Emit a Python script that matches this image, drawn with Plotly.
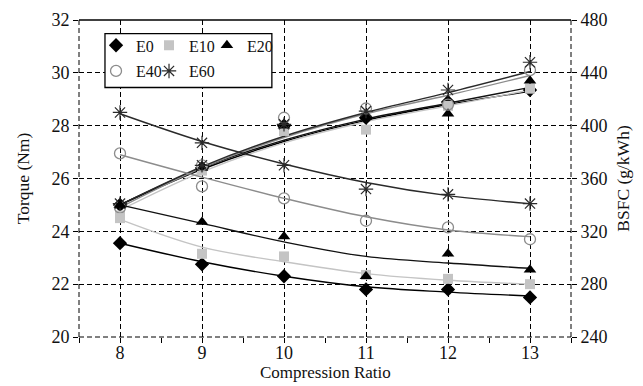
import plotly.graph_objects as go

# Compression ratio steps
ratio = [8, 9, 10, 11, 12, 13]

# Measured torque (Nm) per blend
torque_e0 = [25.0, 26.4, 28.0, 28.3, 28.9, 29.35]
torque_e10 = [24.6, 26.3, 27.8, 27.85, 28.75, 29.4]
torque_e20 = [25.0, 26.4, 28.0, 28.35, 28.45, 29.7]
torque_e40 = [24.9, 26.5, 28.3, 28.65, 28.8, 30.1]
torque_e60 = [25.05, 26.5, 28.05, 28.55, 29.35, 30.4]

# Trend curves for torque
torque_fit_e0 = [25.0, 26.35, 27.4, 28.2, 28.8, 29.3]
torque_fit_e10 = [24.8, 26.25, 27.35, 28.15, 28.75, 29.35]
torque_fit_e20 = [25.0, 26.4, 27.45, 28.25, 28.85, 29.45]
torque_fit_e40 = [24.9, 26.4, 27.55, 28.45, 29.15, 29.9]
torque_fit_e60 = [25.0, 26.45, 27.6, 28.5, 29.25, 30.05]

# Measured BSFC (g/kWh) per blend
bsfc_e0 = [311, 295, 286, 276, 276, 270]
bsfc_e10 = [330, 303, 301, 287, 284, 280]
bsfc_e20 = [340, 327, 316, 286, 303, 291]
bsfc_e40 = [379, 354, 345, 328, 323, 314]
bsfc_e60 = [410, 387, 370, 352, 348, 341]

# Trend curves for BSFC
bsfc_fit_e0 = [311, 297, 286, 278, 274, 271]
bsfc_fit_e10 = [329, 308, 297, 288, 283, 280]
bsfc_fit_e20 = [340, 326, 312, 301, 296, 292]
bsfc_fit_e40 = [378, 361, 345, 331, 321, 316]
bsfc_fit_e60 = [409, 388, 371, 357, 347, 341]

blends = ["E0", "E10", "E20", "E40", "E60"]
torque_pts = [torque_e0, torque_e10, torque_e20, torque_e40, torque_e60]
torque_fits = [torque_fit_e0, torque_fit_e10, torque_fit_e20, torque_fit_e40, torque_fit_e60]
bsfc_pts = [bsfc_e0, bsfc_e10, bsfc_e20, bsfc_e40, bsfc_e60]
bsfc_fits = [bsfc_fit_e0, bsfc_fit_e10, bsfc_fit_e20, bsfc_fit_e40, bsfc_fit_e60]

line_colors = ["#000000", "#c4c4c4", "#111111", "#8c8c8c", "#2a2a2a"]
marker_styles = [
    dict(symbol="diamond", size=11, color="#000000"),
    dict(symbol="square", size=10, color="#c4c4c4"),
    dict(symbol="triangle-up", size=11, color="#000000"),
    dict(symbol="circle-open", size=11, color="#8c8c8c", line=dict(width=1.3, color="#8c8c8c")),
    dict(symbol="asterisk-open", size=12, color="#2a2a2a", line=dict(width=1.2, color="#2a2a2a")),
]

# One legend per blend so the key can be laid out as a 3 + 2 grid inside a box
legend_ids = ["legend", "legend2", "legend3", "legend4", "legend5"]
legend_x = [0.0346, 0.1423, 0.2600, 0.0346, 0.1423]
legend_y = [0.920, 0.920, 0.920, 0.839, 0.839]

FONT = "Liberation Serif, Times New Roman, serif"
fig = go.Figure()

# Smoothed trend lines first so the markers sit on top
for i in range(5):
    fig.add_trace(go.Scatter(x=ratio, y=torque_fits[i], mode="lines", yaxis="y",
                             line=dict(color=line_colors[i], width=1.4, shape="spline"),
                             showlegend=False, hoverinfo="skip"))
    fig.add_trace(go.Scatter(x=ratio, y=bsfc_fits[i], mode="lines", yaxis="y2",
                             line=dict(color=line_colors[i], width=1.4, shape="spline"),
                             showlegend=False, hoverinfo="skip"))

for i in range(5):
    fig.add_trace(go.Scatter(x=ratio, y=torque_pts[i], mode="markers", yaxis="y",
                             marker=marker_styles[i], name=blends[i],
                             legend=legend_ids[i], legendgroup=blends[i]))
    fig.add_trace(go.Scatter(x=ratio, y=bsfc_pts[i], mode="markers", yaxis="y2",
                             marker=marker_styles[i], name=blends[i],
                             legend=legend_ids[i], legendgroup=blends[i], showlegend=False))

dash = "5px,3px"
tickfont = dict(family=FONT, size=18, color="#111111")
titlefont = dict(family=FONT, size=17.5, color="#111111")

legend_layout = {}
for i, lid in enumerate(legend_ids):
    legend_layout[lid] = dict(orientation="h", x=legend_x[i], xanchor="left",
                              y=legend_y[i], yanchor="middle", bgcolor="rgba(0,0,0,0)",
                              font=dict(family=FONT, size=16, color="#111111"), itemwidth=30)

fig.update_layout(
    width=643, height=386,
    margin=dict(l=79, r=72, t=20, b=49, autoexpand=False),
    paper_bgcolor="white", plot_bgcolor="white",
    font=dict(family=FONT, color="#111111"),
    xaxis=dict(range=[7.5, 13.5], dtick=1, tick0=8, showgrid=True, gridcolor="#000000",
               griddash=dash, gridwidth=1, zeroline=False, showline=False, automargin=False,
               ticks="outside", ticklen=5, tickcolor="#000000", tickfont=tickfont,
               ticklabelstandoff=-6,
               minor=dict(dtick=0.5, tick0=7.5, ticks="outside", ticklen=5, tickcolor="#000000", showgrid=False)),
    yaxis=dict(range=[20, 32], dtick=2, showgrid=True, gridcolor="#000000", griddash=dash,
               gridwidth=1, zeroline=False, showline=False, ticks="outside", ticklen=5,
               automargin=True, tickcolor="#000000", tickfont=tickfont,
               title=dict(text="Torque (Nm)", font=titlefont, standoff=17)),
    yaxis2=dict(range=[240, 480], dtick=40, overlaying="y", side="right", showgrid=False,
                zeroline=False, showline=False, ticks="outside", ticklen=5, tickcolor="#000000",
                automargin=True, tickfont=tickfont,
                title=dict(text="BSFC (g/kWh)", font=titlefont, standoff=10)),
    showlegend=True,
    **legend_layout,
)

# Horizontal axis title placed just below the tick labels
fig.add_annotation(text="Compression Ratio", xref="paper", yref="paper", x=0.5, y=-0.112,
                   xanchor="center", yanchor="middle", showarrow=False,
                   font=dict(family=FONT, size=17, color="#111111"))

# Frame: solid top edge, dashed left/right/bottom edges, and the legend box
fig.add_shape(type="line", xref="paper", yref="paper", x0=0, x1=1, y0=1, y1=1,
              line=dict(color="#000000", width=1.3))
fig.add_shape(type="line", xref="paper", yref="paper", x0=0, x1=1, y0=0, y1=0,
              line=dict(color="#000000", width=1, dash=dash))
fig.add_shape(type="line", xref="paper", yref="paper", x0=0, x1=0, y0=0, y1=1,
              line=dict(color="#000000", width=1, dash=dash))
fig.add_shape(type="line", xref="paper", yref="paper", x0=1, x1=1, y0=0, y1=1,
              line=dict(color="#000000", width=1, dash=dash))
fig.add_shape(type="rect", xref="paper", yref="paper", x0=0.0528, x1=0.392, y0=0.787, y1=0.957,
              line=dict(color="#000000", width=1.3), fillcolor="white", layer="above")

fig.write_html("out.html")
